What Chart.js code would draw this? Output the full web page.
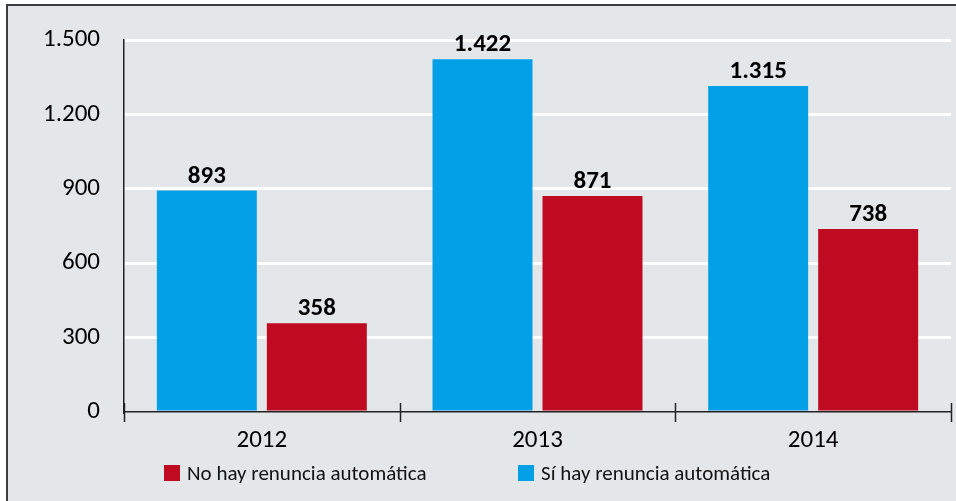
<!DOCTYPE html>
<html><head><meta charset="utf-8">
<script src="https://cdn.jsdelivr.net/npm/chart.js@4/dist/chart.umd.min.js"></script>
<style>html,body{margin:0;padding:0;background:#fff;overflow:hidden}</style>
</head><body>
<canvas id="c" width="956" height="501"></canvas>
<script>
const categories = ['2012', '2013', '2014'];
const siValues = [893, 1422, 1315];
const noValues = [358, 871, 738];
const yTicks = [0, 300, 600, 900, 1200, 1500];
const siLabel = 'Sí hay renuncia automática';
const noLabel = 'No hay renuncia automática';

const FONT = "Carlito, Lato, 'Liberation Sans', sans-serif";
const BLUE = '#03a0e8';
const RED = '#c00a22';
const fmt = v => String(v).replace(/\B(?=(\d{3})+(?!\d))/g, '.');

const framePlugin = {
  id: 'frame',
  beforeDraw(chart) {
    const ctx = chart.ctx;
    ctx.save();
    ctx.fillStyle = '#ffffff';
    ctx.fillRect(0, 0, chart.width, chart.height);
    ctx.fillStyle = '#e4e7ea';
    ctx.fillRect(6, 4, chart.width - 6, chart.height - 4);
    ctx.fillStyle = '#3c3c3c';
    ctx.fillRect(6, 4, chart.width - 6, 2);
    ctx.fillRect(6, 4, 2, chart.height - 4);
    ctx.restore();
  }
};

const xTickPlugin = {
  id: 'xTicks',
  afterDraw(chart) {
    const xs = chart.scales.x;
    const ctx = chart.ctx;
    const y0 = chart.chartArea.bottom;
    ctx.save();
    ctx.strokeStyle = '#222';
    ctx.lineWidth = 1.5;
    for (let i = 0; i <= categories.length; i++) {
      const x = Math.round(xs.getPixelForValue(i - 0.5)) + 0.5;
      ctx.beginPath();
      ctx.moveTo(x, y0 - 9);
      ctx.lineTo(x, y0 + 10);
      ctx.stroke();
    }
    ctx.restore();
  }
};

const valueLabelPlugin = {
  id: 'valueLabels',
  afterDatasetsDraw(chart) {
    const ctx = chart.ctx;
    ctx.save();
    ctx.font = "bold 25px " + FONT;
    ctx.fillStyle = '#000';
    ctx.textAlign = 'center';
    ctx.textBaseline = 'alphabetic';
    chart.data.datasets.forEach((ds, di) => {
      chart.getDatasetMeta(di).data.forEach((el, i) => {
        ctx.fillText(fmt(ds.data[i]), el.x, el.y - 8);
      });
    });
    ctx.restore();
  }
};

const legendPlugin = {
  id: 'customLegend',
  afterDraw(chart) {
    const ctx = chart.ctx;
    const items = chart.data.datasets.slice().reverse();
    const starts = [164, 518];
    ctx.save();
    ctx.font = "21px " + FONT;
    ctx.textBaseline = 'middle';
    ctx.textAlign = 'left';
    items.forEach((ds, k) => {
      const x = starts[k];
      ctx.fillStyle = ds.backgroundColor;
      ctx.fillRect(x, 465, 16, 16);
      ctx.fillStyle = '#111';
      ctx.fillText(ds.label, x + 23, 475);
    });
    ctx.restore();
  }
};

new Chart(document.getElementById('c'), {
  type: 'bar',
  data: {
    labels: categories,
    datasets: [
      { label: siLabel, data: siValues, backgroundColor: BLUE },
      { label: noLabel, data: noValues, backgroundColor: RED }
    ]
  },
  options: {
    responsive: false,
    animation: false,
    devicePixelRatio: 1,
    layout: { padding: { top: 40, right: 5, bottom: 0, left: 0 } },
    datasets: { bar: { barPercentage: 0.909, categoryPercentage: 0.798 } },
    plugins: { legend: { display: false }, tooltip: { enabled: false } },
    scales: {
      x: {
        type: 'category',
        offset: true,
        grid: { display: false },
        border: { display: true, color: '#222', width: 1.5 },
        ticks: { color: '#000', font: { family: FONT, size: 25 }, padding: 6 },
        afterFit(s) { s.height = 89; }
      },
      y: {
        min: 0, max: 1500,
        afterBuildTicks(s) { s.ticks = yTicks.map(v => ({ value: v })); },
        grid: {
          color: c => (c.tick && c.tick.value === 0) ? 'rgba(0,0,0,0)' : '#ffffff',
          lineWidth: 3,
          drawTicks: false
        },
        border: { display: true, color: '#222', width: 1.5 },
        ticks: {
          color: '#000',
          font: { family: FONT, size: 25 },
          padding: 24,
          callback: v => fmt(v)
        },
        afterFit(s) { s.width = 124; }
      }
    }
  },
  plugins: [framePlugin, xTickPlugin, valueLabelPlugin, legendPlugin]
});
</script>
</body></html>
